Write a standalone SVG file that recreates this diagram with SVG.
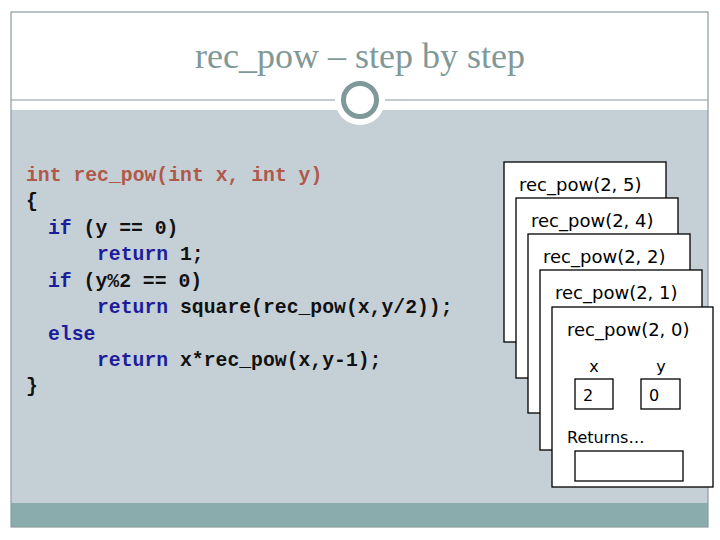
<svg xmlns="http://www.w3.org/2000/svg" width="720" height="540" viewBox="0 0 720 540">
<style>
.code{font-family:"Liberation Mono","Courier New",monospace;font-weight:bold;font-size:19.75px;white-space:pre}
.br{fill:#b0584a}
.bl{fill:#1c1c9c}
.bk{fill:#111}
.frame{fill:#fff;stroke:#000;stroke-width:1.3}
.lbl{font-family:"DejaVu Sans","Verdana",sans-serif;font-size:18px;fill:#000}
.sm{font-family:"DejaVu Sans","Verdana",sans-serif;font-size:16px;fill:#000}
</style>
<rect width="720" height="540" fill="#fff"/>
<g id="slide">
<rect x="11" y="110" width="697" height="393" fill="#c5d0d6"/>
<rect x="11" y="503" width="697" height="24" fill="#8aacac"/>
<rect x="11" y="12" width="697" height="515" fill="none" stroke="#8a9c9c" stroke-width="1.2"/>
<line x1="11" y1="100" x2="708" y2="100" stroke="#8a9c9c" stroke-width="1.2"/>
<circle cx="360" cy="100" r="25" fill="#fff"/>
<circle cx="360" cy="100" r="16.5" fill="#fff" stroke="#7f9898" stroke-width="5"/>
<text x="360" y="68" text-anchor="middle" font-family="Liberation Serif,Times New Roman,serif" font-size="36" fill="#7f9898">rec_pow – step by step</text>
</g>
<g id="code" class="code">
<text x="26" y="181" class="br">int rec_pow(int x, int y)</text>
<text x="26" y="207" class="bk">{</text>
<text x="48" y="234"><tspan class="bl">if</tspan><tspan class="bk"> (y == 0)</tspan></text>
<text x="97" y="260"><tspan class="bl">return</tspan><tspan class="bk"> 1;</tspan></text>
<text x="48" y="287"><tspan class="bl">if</tspan><tspan class="bk"> (y%2 == 0)</tspan></text>
<text x="97" y="313"><tspan class="bl">return</tspan><tspan class="bk"> square(rec_pow(x,y/2));</tspan></text>
<text x="48" y="340" class="bl">else</text>
<text x="97" y="366"><tspan class="bl">return</tspan><tspan class="bk"> x*rec_pow(x,y-1);</tspan></text>
<text x="26" y="392" class="bk">}</text>
</g>
<g id="frame1"><rect class="frame" x="504" y="162" width="162" height="180"/><text class="lbl" x="519" y="191">rec_pow(2, 5)</text></g>
<g id="frame2"><rect class="frame" x="516" y="198" width="162" height="180"/><text class="lbl" x="531" y="227">rec_pow(2, 4)</text></g>
<g id="frame3"><rect class="frame" x="528" y="234" width="162" height="179"/><text class="lbl" x="543" y="263">rec_pow(2, 2)</text></g>
<g id="frame4"><rect class="frame" x="540" y="270" width="162" height="180"/><text class="lbl" x="555" y="299">rec_pow(2, 1)</text></g>
<g id="frame5"><rect class="frame" x="552" y="307" width="161" height="180"/><text class="lbl" x="567" y="336">rec_pow(2, 0)</text>
<text class="sm" x="594" y="372" text-anchor="middle">x</text>
<text class="sm" x="661" y="372" text-anchor="middle">y</text>
<rect class="frame" x="575" y="379" width="38" height="30"/>
<text class="sm" x="583" y="401">2</text>
<rect class="frame" x="641" y="379" width="39" height="30"/>
<text class="sm" x="649" y="401">0</text>
<text class="sm" x="567" y="443">Returns…</text>
<rect class="frame" x="575" y="451" width="108" height="30"/>
</g>
<g id="connectors"></g>
</svg>
